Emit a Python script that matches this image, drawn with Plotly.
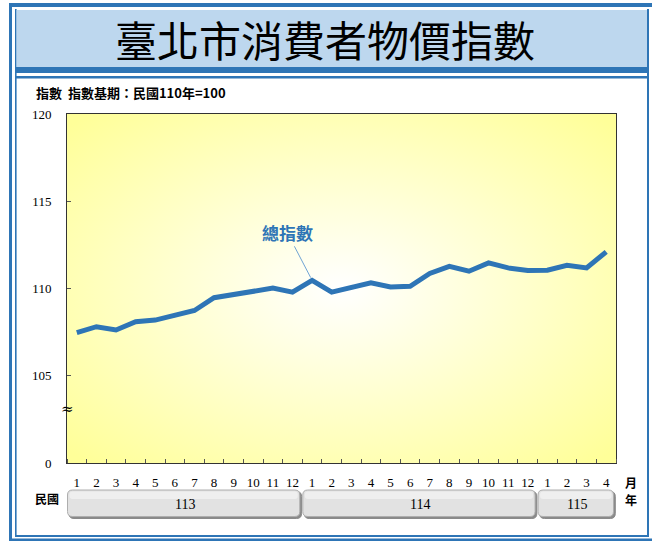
import base64
import plotly.graph_objects as go

# ---- data ----
month_labels = ["1", "2", "3", "4", "5", "6", "7", "8", "9", "10", "11", "12",
                "1", "2", "3", "4", "5", "6", "7", "8", "9", "10", "11", "12",
                "1", "2", "3", "4"]
year_labels = ["113", "114", "115"]
year_month_counts = [12, 12, 4]
cpi_total = [107.47, 107.81, 107.62, 108.10, 108.19, 108.46, 108.74, 109.47, 109.66, 109.83, 110.02, 109.79,
             110.47, 109.79, 110.04, 110.33, 110.09, 110.13, 110.86, 111.27, 110.99, 111.47, 111.18, 111.03,
             111.05, 111.33, 111.18, 112.10]
y_tick_vals = [100, 105, 110, 115, 120]
y_tick_text = ["0", "105", "110", "115", "120"]
series_name = "總指數"
title_text = "臺北市消費者物價指數"
subtitle_text = "指數  指數基期：民國110年=100"

# ---- layout geometry (pixels) ----
W, H = 652, 541
L, R, T, B = 67, 616, 114, 463
PW, PH = R - L, B - T
BLUE = "#2E75B6"
LIGHT_BLUE = "#BDD7EE"


def px(x):
    return (x - L) / PW


def py(y):
    return (B - y) / PH


x_idx = list(range(len(cpi_total)))

fig = go.Figure()
fig.add_trace(go.Scatter(
    x=x_idx, y=cpi_total, mode="lines", name=series_name,
    line=dict(color=BLUE, width=5), hoverinfo="skip", showlegend=False,
))

shapes = []


def rect(x0, y0, x1, y1, color):
    shapes.append(dict(type="rect", xref="paper", yref="paper",
                       x0=px(x0), x1=px(x1), y0=py(y1), y1=py(y0),
                       fillcolor=color, line=dict(width=0), layer="above"))


# frame
rect(9, 3, 12, 541, BLUE)
rect(9, 3, 652, 7, BLUE)
rect(9, 538.5, 652, 541, BLUE)
rect(15, 9, 16.6, 537, BLUE)
rect(647, 9, 649, 537, BLUE)
rect(15, 535, 649, 537, BLUE)
rect(16.6, 10, 647, 67, LIGHT_BLUE)
rect(15, 67, 649, 73, BLUE)
rect(15, 76, 649, 78.6, BLUE)


def rounded(x0, y0, x1, y1, r, fill, line_color):
    rx, ry = r / PW, r / PH
    a0, a1 = px(x0), px(x1)
    b0, b1 = py(y1), py(y0)
    path = (f"M{a0+rx},{b1} L{a1-rx},{b1} Q{a1},{b1} {a1},{b1-ry} "
            f"L{a1},{b0+ry} Q{a1},{b0} {a1-rx},{b0} L{a0+rx},{b0} "
            f"Q{a0},{b0} {a0},{b0+ry} L{a0},{b1-ry} Q{a0},{b1} {a0+rx},{b1} Z")
    shapes.append(dict(type="path", xref="paper", yref="paper", path=path,
                       fillcolor=fill, line=dict(color=line_color, width=1), layer="above"))


def note(x, y, text, size, family="Noto Sans CJK TC", bold=False, color="black", **kw):
    d = dict(xref="paper", yref="paper", x=x, y=y, text=text, showarrow=False,
             xanchor="center", yanchor="middle",
             font=dict(family=family, size=size, color=color, weight="bold" if bold else "normal"))
    d.update(kw)
    return d


annotations = []
n = len(cpi_total)
start = 0
for lab, cnt in zip(year_labels, year_month_counts):
    x0 = L + PW * start / n + 0.5
    x1 = L + PW * (start + cnt) / n - 2.5
    rounded(x0 + 1.5, 491.5, x1 + 1.8, 518.5, 5, "#8A8A8A", "#8A8A8A")
    rounded(x0, 490, x1, 516.5, 5, "#E2E2E2", "#AEAEAE")
    rounded(x0 + 2, 491.5, x1 - 2, 499, 3, "#EFEFEF", "rgba(0,0,0,0)")
    annotations.append(note((start + cnt / 2) / n, py(504), lab, 14, family="Liberation Serif"))
    start += cnt

annotations += [
    note(px(325), py(38), title_text, 42),
    note(px(34), py(92.5), subtitle_text, 13, bold=True, xanchor="left"),
    note(px(47), py(498), "民國", 12, bold=True),
    note(px(631), py(482), "月", 12, bold=True),
    note(px(631), py(499), "年", 12, bold=True),
    dict(xref="paper", yref="y", x=0, y=103.1, text="≈", showarrow=False,
         xanchor="center", yanchor="middle",
         font=dict(family="DejaVu Serif", size=15, color="black")),
    dict(xref="x", yref="y", x=12, y=cpi_total[12], text=series_name,
         showarrow=True, arrowhead=0, arrowwidth=0.8, arrowcolor="#4A8CCB",
         ax=-25, ay=-48, standoff=3,
         font=dict(family="Noto Sans CJK TC", size=17, color=BLUE, weight="bold")),
]

# gradient background for plot area
svg = ('<svg xmlns="http://www.w3.org/2000/svg" width="550" height="349" viewBox="0 0 550 349" '
       'preserveAspectRatio="none"><defs><radialGradient id="g" cx="0.5" cy="0.5" r="0.68">'
       '<stop offset="0" stop-color="#FFFFFF"/><stop offset="1" stop-color="#FFFF99"/>'
       '</radialGradient></defs><rect width="550" height="349" fill="url(#g)"/></svg>')
src = "data:image/svg+xml;base64," + base64.b64encode(svg.encode()).decode()

fig.update_layout(
    width=W, height=H,
    margin=dict(l=L, r=W - R, t=T, b=H - B),
    paper_bgcolor="white", plot_bgcolor="#FFFFCC",
    showlegend=False,
    shapes=shapes, annotations=annotations,
    images=[dict(source=src, xref="paper", yref="paper", x=0, y=1, sizex=1, sizey=1,
                 sizing="stretch", layer="below", xanchor="left", yanchor="top")],
    xaxis=dict(range=[-0.5, n - 0.5], tickmode="array", tickvals=x_idx, ticktext=month_labels,
               ticks="", showgrid=False, zeroline=False, showline=True, linecolor="#333333",
               linewidth=1, mirror=True, ticklabelstandoff=7,
               tickfont=dict(family="Liberation Serif", size=13, color="black"),
               minor=dict(tick0=0.5, dtick=1, ticks="inside", ticklen=4, tickcolor="#555555",
                          showgrid=False)),
    yaxis=dict(range=[100, 120], tickmode="array", tickvals=y_tick_vals, ticktext=y_tick_text,
               ticks="inside", ticklen=4, tickcolor="#555555", showgrid=False, zeroline=False,
               showline=True, linecolor="#333333", linewidth=1, mirror=True,
               ticklabelstandoff=12,
               tickfont=dict(family="Liberation Serif", size=13, color="black")),
)

fig.write_html("out.html", config={"displayModeBar": False},
               post_script="document.body.style.margin='0';document.body.style.padding='0';")
